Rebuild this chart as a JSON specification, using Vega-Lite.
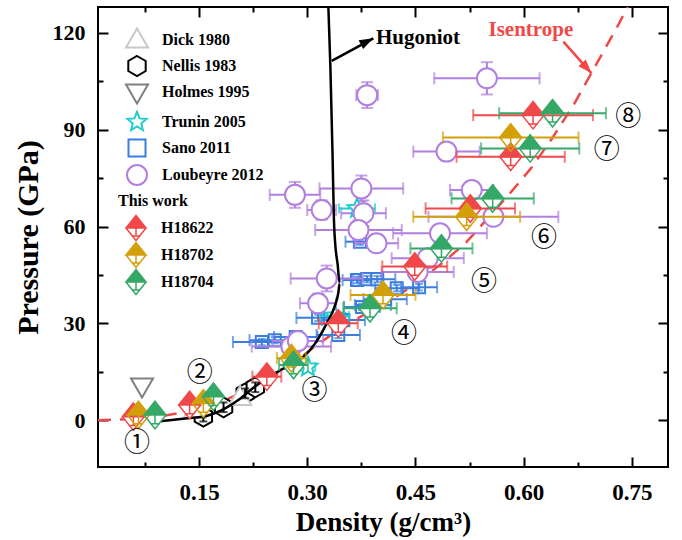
{
  "$schema": "https://vega.github.io/schema/vega-lite/v6.json",
  "width": 570,
  "height": 460,
  "autosize": "none",
  "padding": {"left": 98, "top": 7, "right": 14, "bottom": 73},
  "background": "white",
  "config": {
    "view": {"stroke": "black", "strokeWidth": 2},
    "axis": {
      "labelFont": "Liberation Serif", "labelFontWeight": "bold", "labelFontSize": 22, "labelColor": "black",
      "titleFont": "Liberation Serif", "titleFontWeight": "bold", "titleFontSize": 27, "titleColor": "black",
      "domain": false, "grid": false, "tickColor": "black", "tickWidth": 2
    },
    "legend": {
      "labelFont": "Liberation Serif", "labelFontWeight": "bold", "labelFontSize": 16, "labelColor": "black",
      "titleFont": "Liberation Serif", "titleFontWeight": "bold", "titleFontSize": 16, "titleColor": "black",
      "symbolStrokeWidth": 2, "padding": 0, "labelOffset": 14
    }
  },
  "datasets": {
    "lit": [
      {"series": "Sano 2011", "d": 0.237, "P": 24.2, "dx": 0.04, "dp": 1},
      {"series": "Sano 2011", "d": 0.255, "P": 24.8, "dx": 0.035, "dp": 1},
      {"series": "Sano 2011", "d": 0.284, "P": 25.8, "dx": 0.03, "dp": 1},
      {"series": "Sano 2011", "d": 0.315, "P": 31.7, "dx": 0.03, "dp": 1},
      {"series": "Sano 2011", "d": 0.343, "P": 26.4, "dx": 0.03, "dp": 1},
      {"series": "Sano 2011", "d": 0.35, "P": 31.0, "dx": 0.03, "dp": 1},
      {"series": "Sano 2011", "d": 0.369, "P": 43.4, "dx": 0.02, "dp": 1},
      {"series": "Sano 2011", "d": 0.383, "P": 43.7, "dx": 0.02, "dp": 1},
      {"series": "Sano 2011", "d": 0.397, "P": 43.7, "dx": 0.025, "dp": 1},
      {"series": "Sano 2011", "d": 0.424, "P": 40.9, "dx": 0.03, "dp": 1},
      {"series": "Sano 2011", "d": 0.455, "P": 41.2, "dx": 0.025, "dp": 1},
      {"series": "Sano 2011", "d": 0.376, "P": 35.1, "dx": 0.025, "dp": 1},
      {"series": "Sano 2011", "d": 0.391, "P": 35.7, "dx": 0.025, "dp": 1},
      {"series": "Sano 2011", "d": 0.408, "P": 37.5, "dx": 0.03, "dp": 1},
      {"series": "Sano 2011", "d": 0.373, "P": 55.3, "dx": 0.02, "dp": 1},
      {"series": "Trunin 2005", "d": 0.301, "P": 16.5, "dx": 0.01, "dp": 1},
      {"series": "Trunin 2005", "d": 0.338, "P": 32.3, "dx": 0.02, "dp": 1},
      {"series": "Trunin 2005", "d": 0.369, "P": 65.6, "dx": 0.025, "dp": 1},
      {"series": "Loubeyre 2012", "d": 0.383, "P": 100.7, "dx": 0.015, "dp": 4},
      {"series": "Loubeyre 2012", "d": 0.549, "P": 105.9, "dx": 0.073, "dp": 5},
      {"series": "Loubeyre 2012", "d": 0.493, "P": 83.2, "dx": 0.046, "dp": 2.5},
      {"series": "Loubeyre 2012", "d": 0.528, "P": 71.3, "dx": 0.03, "dp": 2},
      {"series": "Loubeyre 2012", "d": 0.558, "P": 63.0, "dx": 0.09, "dp": 2},
      {"series": "Loubeyre 2012", "d": 0.484, "P": 57.9, "dx": 0.065, "dp": 2},
      {"series": "Loubeyre 2012", "d": 0.467, "P": 50.2, "dx": 0.05, "dp": 2},
      {"series": "Loubeyre 2012", "d": 0.453, "P": 45.9, "dx": 0.05, "dp": 2},
      {"series": "Loubeyre 2012", "d": 0.283, "P": 69.8, "dx": 0.035, "dp": 4},
      {"series": "Loubeyre 2012", "d": 0.375, "P": 71.8, "dx": 0.058, "dp": 4},
      {"series": "Loubeyre 2012", "d": 0.32, "P": 65.1, "dx": 0.02, "dp": 3},
      {"series": "Loubeyre 2012", "d": 0.378, "P": 64.1, "dx": 0.031, "dp": 4},
      {"series": "Loubeyre 2012", "d": 0.371, "P": 58.9, "dx": 0.06, "dp": 3},
      {"series": "Loubeyre 2012", "d": 0.396, "P": 54.8, "dx": 0.03, "dp": 2},
      {"series": "Loubeyre 2012", "d": 0.327, "P": 43.9, "dx": 0.05, "dp": 4},
      {"series": "Loubeyre 2012", "d": 0.315, "P": 36.2, "dx": 0.025, "dp": 3},
      {"series": "Loubeyre 2012", "d": 0.278, "P": 22.8, "dx": 0.055, "dp": 2},
      {"series": "Loubeyre 2012", "d": 0.287, "P": 24.5, "dx": 0.035, "dp": 2},
      {"series": "Nellis 1983", "d": 0.156, "P": 1.1, "dx": 0, "dp": 1.5},
      {"series": "Nellis 1983", "d": 0.184, "P": 4.0, "dx": 0, "dp": 1.5},
      {"series": "Nellis 1983", "d": 0.214, "P": 8.3, "dx": 0, "dp": 1.5},
      {"series": "Nellis 1983", "d": 0.228, "P": 10.2, "dx": 0, "dp": 1.5},
      {"series": "Dick 1980", "d": 0.144, "P": 3.0, "dx": 0, "dp": 0},
      {"series": "Dick 1980", "d": 0.207, "P": 7.0, "dx": 0, "dp": 0},
      {"series": "Holmes 1995", "d": 0.071, "P": 10.6, "dx": 0, "dp": 0}
    ],
    "hw": [
      {"series": "H18622", "d": 0.059, "P": 1.1, "dx": 0},
      {"series": "H18622", "d": 0.137, "P": 4.7, "dx": 0},
      {"series": "H18622", "d": 0.244, "P": 13.5, "dx": 0.02},
      {"series": "H18622", "d": 0.343, "P": 30.0, "dx": 0.027},
      {"series": "H18622", "d": 0.449, "P": 47.6, "dx": 0.045},
      {"series": "H18622", "d": 0.526, "P": 65.6, "dx": 0.062},
      {"series": "H18622", "d": 0.582, "P": 81.6, "dx": 0.075},
      {"series": "H18622", "d": 0.613, "P": 94.5, "dx": 0.083},
      {"series": "H18702", "d": 0.066, "P": 1.6, "dx": 0},
      {"series": "H18702", "d": 0.156, "P": 5.2, "dx": 0},
      {"series": "H18702", "d": 0.278, "P": 19.2, "dx": 0.02},
      {"series": "H18702", "d": 0.405, "P": 38.8, "dx": 0.045},
      {"series": "H18702", "d": 0.521, "P": 63.0, "dx": 0.074},
      {"series": "H18702", "d": 0.582, "P": 87.6, "dx": 0.094},
      {"series": "H18704", "d": 0.089, "P": 1.6, "dx": 0},
      {"series": "H18704", "d": 0.17, "P": 7.3, "dx": 0},
      {"series": "H18704", "d": 0.281, "P": 17.1, "dx": 0.02},
      {"series": "H18704", "d": 0.387, "P": 34.7, "dx": 0.037},
      {"series": "H18704", "d": 0.486, "P": 53.2, "dx": 0.043},
      {"series": "H18704", "d": 0.557, "P": 68.7, "dx": 0.057},
      {"series": "H18704", "d": 0.609, "P": 84.2, "dx": 0.068},
      {"series": "H18704", "d": 0.64, "P": 95.1, "dx": 0.074}
    ],
    "isen": [
      {"d": 0.01, "P": 0}, {"d": 0.06, "P": 0.4}, {"d": 0.1, "P": 1.3}, {"d": 0.13, "P": 2.5},
      {"d": 0.16, "P": 4.3}, {"d": 0.19, "P": 6.6}, {"d": 0.22, "P": 9.6}, {"d": 0.25, "P": 13.2},
      {"d": 0.28, "P": 17.6}, {"d": 0.31, "P": 22.7}, {"d": 0.34, "P": 27.5}, {"d": 0.37, "P": 31.6},
      {"d": 0.4, "P": 35.3}, {"d": 0.43, "P": 39.2}, {"d": 0.46, "P": 44.0}, {"d": 0.49, "P": 49.2},
      {"d": 0.52, "P": 55.0}, {"d": 0.55, "P": 62.5}, {"d": 0.58, "P": 70.0}, {"d": 0.61, "P": 78.0},
      {"d": 0.64, "P": 87.5}, {"d": 0.67, "P": 98.0}, {"d": 0.7, "P": 110.0}, {"d": 0.73, "P": 122.0},
      {"d": 0.745, "P": 128.5}
    ],
    "hug": [
      {"i": 0, "d": 0.096, "P": -0.3}, {"i": 1, "d": 0.1375, "P": 0.7}, {"i": 2, "d": 0.16, "P": 1.3},
      {"i": 3, "d": 0.185, "P": 3.5}, {"i": 4, "d": 0.205, "P": 6.3}, {"i": 5, "d": 0.225, "P": 10.0},
      {"i": 6, "d": 0.25, "P": 13.8}, {"i": 7, "d": 0.275, "P": 17.0}, {"i": 8, "d": 0.294, "P": 19.5},
      {"i": 9, "d": 0.311, "P": 23.8}, {"i": 10, "d": 0.327, "P": 30.0}, {"i": 11, "d": 0.338, "P": 35.2},
      {"i": 12, "d": 0.343, "P": 39.3}, {"i": 13, "d": 0.345, "P": 42.4}, {"i": 14, "d": 0.342, "P": 48.5},
      {"i": 15, "d": 0.339, "P": 54.0}, {"i": 16, "d": 0.337, "P": 62.0}, {"i": 17, "d": 0.335, "P": 83.0},
      {"i": 18, "d": 0.332, "P": 110.0}, {"i": 19, "d": 0.329, "P": 130.0}
    ],
    "arrows": [
      {"name": "Hugoniot", "d": 0.334, "P": 111.3, "d2": 0.3916, "P2": 118.3},
      {"name": "Isentrope", "d": 0.655, "P": 117.25, "d2": 0.694, "P2": 107.46}
    ],
    "heads": [
      {"name": "Hugoniot", "d": 0.3916, "P": 118.3},
      {"name": "Isentrope", "d": 0.694, "P": 107.46}
    ],
    "notes": [
      {"name": "Hugoniot", "label": "Hugoniot", "d": 0.3953, "P": 118.3},
      {"name": "Isentrope", "label": "Isentrope", "d": 0.61, "P": 120.9}
    ],
    "marks": [
      {"label": "①", "d": 0.064, "P": -7.1},
      {"label": "②", "d": 0.151, "P": 14.6},
      {"label": "③", "d": 0.31, "P": 9.0},
      {"label": "④", "d": 0.434, "P": 26.8},
      {"label": "⑤", "d": 0.545, "P": 42.8},
      {"label": "⑥", "d": 0.628, "P": 56.4},
      {"label": "⑦", "d": 0.715, "P": 83.7},
      {"label": "⑧", "d": 0.745, "P": 94.0}
    ]
  },
  "resolve": {"axis": {"x": "independent", "y": "independent"}},
  "layer": [
    {
      "data": {"name": "heads"},
      "mark": {"type": "point", "opacity": 0},
      "encoding": {
        "x": {"field": "d", "type": "quantitative", "scale": {"domain": [0.01, 0.8], "nice": false, "zero": false},
              "axis": {"orient": "top", "title": null, "labels": false, "values": [0.075, 0.15, 0.225, 0.3, 0.375, 0.45, 0.525, 0.6, 0.675, 0.75],
                       "tickSize": {"condition": {"test": "round(datum.value*1000) % 150 == 0", "value": -10}, "value": -5}}},
        "y": {"field": "P", "type": "quantitative", "scale": {"domain": [-14.5, 128], "nice": false, "zero": false},
              "axis": {"orient": "right", "title": null, "labels": false, "values": [0, 15, 30, 45, 60, 75, 90, 105, 120],
                       "tickSize": {"condition": {"test": "datum.value % 30 == 0", "value": -10}, "value": -5}}}
      }
    },
    {
      "encoding": {
        "x": {"field": "d", "type": "quantitative", "scale": {"domain": [0.01, 0.8], "nice": false, "zero": false},
              "axis": {"orient": "bottom", "title": "Density (g/cm³)", "values": [0.075, 0.15, 0.225, 0.3, 0.375, 0.45, 0.525, 0.6, 0.675, 0.75],
                       "labelExpr": "round(datum.value*1000) % 150 == 0 ? format(datum.value, '.2f') : ''",
                       "tickSize": {"condition": {"test": "round(datum.value*1000) % 150 == 0", "value": -10}, "value": -5},
                       "labelFontSize": 23, "labelPadding": 24, "titlePadding": 5}},
        "y": {"field": "P", "type": "quantitative", "scale": {"domain": [-14.5, 128], "nice": false, "zero": false},
              "axis": {"orient": "left", "title": "Pressure (GPa)", "values": [0, 15, 30, 45, 60, 75, 90, 105, 120],
                       "labelExpr": "datum.value % 30 == 0 ? datum.label : ''",
                       "tickSize": {"condition": {"test": "datum.value % 30 == 0", "value": -10}, "value": -5},
                       "labelPadding": 23, "titlePadding": 9, "titleFontSize": 30}}
      },
      "layer": [
        {
          "data": {"name": "isen"},
          "mark": {"type": "line", "color": "#f04848", "strokeWidth": 2.5, "strokeDash": [13, 9], "clip": true},
          "encoding": {}
        },
        {
          "data": {"name": "lit"},
          "layer": [
            {
              "transform": [{"filter": "datum.series == 'Sano 2011'"}],
              "mark": {"type": "point", "filled": false, "fill": "white", "strokeWidth": 2, "size": 200, "opacity": 1},
              "encoding": {
                "shape": {"field": "series", "type": "nominal",
                  "scale": {"domain": ["Dick 1980", "Nellis 1983", "Holmes 1995", "Trunin 2005", "Sano 2011", "Loubeyre 2012"],
                            "range": ["M0,-1.15L1.1,0.75L-1.1,0.75Z",
                                      "M0,-1L0.87,-0.5L0.87,0.5L0,1L-0.87,0.5L-0.87,-0.5Z",
                                      "M0,1.15L1.1,-0.75L-1.1,-0.75Z",
                                      "M0,-1L0.26,-0.36L0.95,-0.31L0.43,0.14L0.59,0.81L0,0.45L-0.59,0.81L-0.43,0.14L-0.95,-0.31L-0.26,-0.36Z",
                                      "M-0.85,-0.85L0.85,-0.85L0.85,0.85L-0.85,0.85Z",
                                      "M1,0A1,1,0,1,1,-1,0A1,1,0,1,1,1,0Z"]},
                  "legend": {"title": null, "orient": "none", "legendX": 28, "legendY": 22, "symbolFillColor": "white", "symbolSize": 400, "rowPadding": 0}},
                "color": {"field": "series", "type": "nominal",
                  "scale": {"domain": ["Dick 1980", "Nellis 1983", "Holmes 1995", "Trunin 2005", "Sano 2011", "Loubeyre 2012"],
                            "range": ["#c8c8c8", "#000000", "#808080", "#22cccc", "#3a7fe0", "#b07fe0"]},
                  "legend": {"title": null, "orient": "none", "legendX": 28, "legendY": 22, "symbolFillColor": "white", "symbolSize": 400, "rowPadding": 0}}
              }
            },
            {
              "transform": [{"filter": "datum.dx > 0 && datum.series == 'Sano 2011'"}],
              "mark": {"type": "errorbar", "ticks": true, "size": 12, "thickness": 2, "color": "#3a7fe0"},
              "encoding": {"xError": {"field": "dx"}}
            },
            {
              "transform": [{"filter": "datum.dp > 0 && datum.series == 'Sano 2011'"}],
              "mark": {"type": "errorbar", "ticks": true, "size": 8, "thickness": 2, "color": "#3a7fe0"},
              "encoding": {"yError": {"field": "dp"}}
            },
            {
              "transform": [{"filter": "datum.dx > 0 && datum.series == 'Loubeyre 2012'"}],
              "mark": {"type": "errorbar", "ticks": true, "size": 12, "thickness": 2, "color": "#b07fe0"},
              "encoding": {"xError": {"field": "dx"}}
            },
            {
              "transform": [{"filter": "datum.dp > 0 && datum.series == 'Loubeyre 2012'"}],
              "mark": {"type": "errorbar", "ticks": true, "size": 12, "thickness": 2, "color": "#b07fe0"},
              "encoding": {"yError": {"field": "dp"}}
            },
            {
              "transform": [{"filter": "datum.dx > 0 && datum.series == 'Trunin 2005'"}],
              "mark": {"type": "errorbar", "ticks": true, "size": 10, "thickness": 2, "color": "#22cccc"},
              "encoding": {"xError": {"field": "dx"}}
            },
            {
              "transform": [{"filter": "datum.series != 'Sano 2011'"}],
              "mark": {"type": "point", "filled": false, "fill": "white", "strokeWidth": 2, "size": 400, "opacity": 1},
              "encoding": {
                "shape": {"field": "series", "type": "nominal",
                  "scale": {"domain": ["Dick 1980", "Nellis 1983", "Holmes 1995", "Trunin 2005", "Sano 2011", "Loubeyre 2012"],
                            "range": ["M0,-1.15L1.1,0.75L-1.1,0.75Z",
                                      "M0,-1L0.87,-0.5L0.87,0.5L0,1L-0.87,0.5L-0.87,-0.5Z",
                                      "M0,1.15L1.1,-0.75L-1.1,-0.75Z",
                                      "M0,-1L0.26,-0.36L0.95,-0.31L0.43,0.14L0.59,0.81L0,0.45L-0.59,0.81L-0.43,0.14L-0.95,-0.31L-0.26,-0.36Z",
                                      "M-0.85,-0.85L0.85,-0.85L0.85,0.85L-0.85,0.85Z",
                                      "M1,0A1,1,0,1,1,-1,0A1,1,0,1,1,1,0Z"]},
                  "legend": {"title": null, "orient": "none", "legendX": 28, "legendY": 22, "symbolFillColor": "white", "symbolSize": 400, "rowPadding": 0}},
                "color": {"field": "series", "type": "nominal",
                  "scale": {"domain": ["Dick 1980", "Nellis 1983", "Holmes 1995", "Trunin 2005", "Sano 2011", "Loubeyre 2012"],
                            "range": ["#c8c8c8", "#000000", "#808080", "#22cccc", "#3a7fe0", "#b07fe0"]},
                  "legend": {"title": null, "orient": "none", "legendX": 28, "legendY": 22, "symbolFillColor": "white", "symbolSize": 400, "rowPadding": 0}}
              }
            },
            {
              "transform": [{"filter": "datum.dp > 0 && datum.series == 'Nellis 1983'"}],
              "mark": {"type": "errorbar", "ticks": true, "size": 8, "thickness": 2, "color": "#000000"},
              "encoding": {"yError": {"field": "dp"}}
            }
          ]
        },
        {
          "data": {"name": "hug"},
          "mark": {"type": "line", "color": "black", "strokeWidth": 2.5, "clip": true, "interpolate": "monotone"},
          "encoding": {"order": {"field": "i", "type": "quantitative"}}
        },
        {
          "data": {"name": "hw"},
          "layer": [
            {
              "mark": {"type": "point", "shape": "M-1,0L0,-1.25L1,0L0,1.25Z", "fill": "white", "strokeWidth": 0, "size": 484, "opacity": 1, "filled": true},
              "encoding": {}
            },
            {
              "transform": [{"filter": "datum.dx > 0 && datum.series == 'H18622'"}],
              "mark": {"type": "errorbar", "ticks": true, "size": 12, "thickness": 2, "color": "#f04848"},
              "encoding": {"xError": {"field": "dx"}}
            },
            {
              "transform": [{"filter": "datum.dx > 0 && datum.series == 'H18702'"}],
              "mark": {"type": "errorbar", "ticks": true, "size": 12, "thickness": 2, "color": "#d4a00a"},
              "encoding": {"xError": {"field": "dx"}}
            },
            {
              "transform": [{"filter": "datum.dx > 0 && datum.series == 'H18704'"}],
              "mark": {"type": "errorbar", "ticks": true, "size": 12, "thickness": 2, "color": "#35a868"},
              "encoding": {"xError": {"field": "dx"}}
            },
            {
              "mark": {"type": "point", "shape": "M-1,0L0,-1.25L1,0Z M1,0L0,1.25L-1,0L0,1.25Z M0,0L0,0.8 M-0.45,0.8L0.45,0.8", "strokeWidth": 1.5, "size": 484, "opacity": 1},
              "encoding": {
                "fill": {"field": "series", "type": "nominal",
                  "scale": {"domain": ["H18622", "H18702", "H18704"], "range": ["#f04848", "#d4a00a", "#35a868"]},
                  "legend": {"title": "This work", "orient": "none", "legendX": 20, "legendY": 186, "symbolOffset": 7, "titlePadding": 8, "symbolStrokeWidth": 1.5, "symbolSize": 400, "rowPadding": -7,
                             "symbolType": "M-1,0L0,-1.25L1,0Z M1,0L0,1.25L-1,0L0,1.25Z M0,0L0,0.8 M-0.45,0.8L0.45,0.8"}},
                "stroke": {"field": "series", "type": "nominal",
                  "scale": {"domain": ["H18622", "H18702", "H18704"], "range": ["#f04848", "#d4a00a", "#35a868"]},
                  "legend": {"title": "This work", "orient": "none", "legendX": 20, "legendY": 186, "symbolOffset": 7, "titlePadding": 8, "symbolStrokeWidth": 1.5, "symbolSize": 400, "rowPadding": -7,
                             "symbolType": "M-1,0L0,-1.25L1,0Z M1,0L0,1.25L-1,0L0,1.25Z M0,0L0,0.8 M-0.45,0.8L0.45,0.8"}}
              }
            }
          ]
        },
        {
          "data": {"name": "arrows"},
          "transform": [{"filter": "datum.name == 'Hugoniot'"}],
          "mark": {"type": "rule", "strokeWidth": 2.5, "color": "black"},
          "encoding": {"x2": {"field": "d2"}, "y2": {"field": "P2"}}
        },
        {
          "data": {"name": "arrows"},
          "transform": [{"filter": "datum.name == 'Isentrope'"}],
          "mark": {"type": "rule", "strokeWidth": 2.5, "color": "#f04848"},
          "encoding": {"x2": {"field": "d2"}, "y2": {"field": "P2"}}
        },
        {
          "data": {"name": "heads"},
          "transform": [{"filter": "datum.name == 'Hugoniot'"}],
          "mark": {"type": "point", "shape": "M0,0L-2,-0.7L-2,0.7Z", "size": 196, "filled": true, "fill": "black", "strokeWidth": 0, "opacity": 1, "angle": 333},
          "encoding": {}
        },
        {
          "data": {"name": "heads"},
          "transform": [{"filter": "datum.name == 'Isentrope'"}],
          "mark": {"type": "point", "shape": "M0,0L-2,-0.7L-2,0.7Z", "size": 196, "filled": true, "fill": "#f04848", "strokeWidth": 0, "opacity": 1, "angle": 48},
          "encoding": {}
        },
        {
          "data": {"name": "notes"},
          "transform": [{"filter": "datum.name == 'Hugoniot'"}],
          "mark": {"type": "text", "align": "left", "baseline": "middle", "font": "Liberation Serif", "fontWeight": "bold", "fontSize": 21, "color": "black"},
          "encoding": {"text": {"field": "label"}}
        },
        {
          "data": {"name": "notes"},
          "transform": [{"filter": "datum.name == 'Isentrope'"}],
          "mark": {"type": "text", "align": "center", "baseline": "middle", "font": "Liberation Serif", "fontWeight": "bold", "fontSize": 21, "color": "#f04848"},
          "encoding": {"text": {"field": "label"}}
        },
        {
          "data": {"name": "marks"},
          "mark": {"type": "text", "align": "center", "baseline": "middle", "font": "Noto Sans CJK SC", "fontSize": 26, "color": "black"},
          "encoding": {"text": {"field": "label"}}
        }
      ]
    }
  ]
}
